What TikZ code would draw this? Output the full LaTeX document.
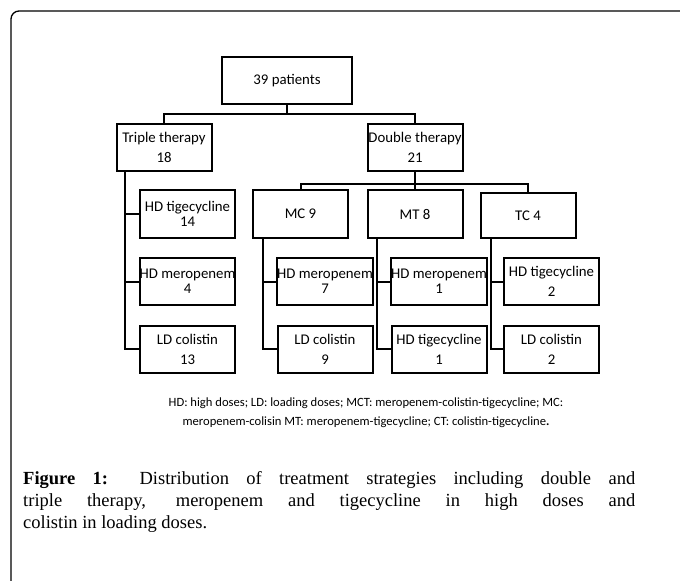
\documentclass[tikz,border=0pt]{standalone}
\usepackage{fontspec}
\usepackage{tikz}
\usetikzlibrary{positioning}
\newfontfamily\boxfont{Carlito}
\newfontfamily\capfont{Liberation Serif}
\tikzset{
  box/.style={draw, line width=2bp, minimum width=95bp, minimum height=47bp,
    inner sep=0pt, align=center, font=\boxfont\fontsize{14.8bp}{20bp}\selectfont},
  tight/.style={font=\boxfont\fontsize{14.8bp}{15bp}\selectfont},
  link/.style={line width=2bp},
}

\begin{document}
\begin{tikzpicture}[x=1bp, y=-1bp]
        \useasboundingbox (0,0) rectangle (680,581);
        \draw[line width=1.3bp, rounded corners=8bp] (11,581) -- (11,11) -- (680,11);
        \node[box, minimum width=130bp] (root) at (287,80.5) {39 patients};
        \node[box] (tri) at (164,147.5) {Triple therapy\\18};
        \node[box] (dbl) at (415,147.5) {Double therapy\\21};
        \node[box] (mc) at (300.5,214) {MC 9};
        \node[box] (mt) at (415,214) {MT 8};
        \node[box, minimum height=45bp] (tc) at (528,215.5) {TC 4};
        \node[box, tight] (hdt1) at (187.5,214) {HD tigecycline\\14};
        \node[box, tight] (hdm1) at (187.5,281.5) {HD meropenem\\4};
        \node[box] (ldc1) at (187.5,349) {LD colistin\\13};
        \node[box, tight] (hdm2) at (325,281.5) {HD meropenem\\7};
        \node[box] (ldc2) at (325,349) {LD colistin\\9};
        \node[box, tight] (hdm3) at (439,281.5) {HD meropenem\\1};
        \node[box] (hdt3) at (439,349) {HD tigecycline\\1};
        \node[box] (hdt4) at (551.5,281.5) {HD tigecycline\\2};
        \node[box] (ldc4) at (551.5,349) {LD colistin\\2};
        \draw[link] (root.south) -- ++(0,9) -| (tri.north);
        \draw[link] (root.south) -- ++(0,9) -| (dbl.north);
        \draw[link] (dbl.south) -- ++(0,12) -| (mc.north);
        \draw[link] (dbl.south) -- (mt.north);
        \draw[link] (dbl.south) -- ++(0,12) -| (tc.north);
        \draw[link] ([xshift=9bp]tri.south west) |- (hdt1.west);
        \draw[link] ([xshift=9bp]tri.south west) |- (hdm1.west);
        \draw[link] ([xshift=9bp]tri.south west) |- (ldc1.west);
        \draw[link] ([xshift=11bp]mc.south west) |- (hdm2.west);
        \draw[link] ([xshift=11bp]mc.south west) |- (ldc2.west);
        \draw[link] ([xshift=10bp]mt.south west) |- (hdm3.west);
        \draw[link] ([xshift=10bp]mt.south west) |- (hdt3.west);
        \draw[link] ([xshift=11bp]tc.south west) |- (hdt4.west);
        \draw[link] ([xshift=11bp]tc.south west) |- (ldc4.west);
        \node[align=center, font=\boxfont\fontsize{12.6bp}{19bp}\selectfont] (note) at (366,412.5)
          {HD: high doses; LD: loading doses; MCT: meropenem-colistin-tigecycline; MC:\\
           meropenem-colisin MT: meropenem-tigecycline; CT: colistin-tigecycline\textbf{.}};
        \node[anchor=north west, inner sep=0pt, text width=612bp, align=justify,
          font=\capfont\fontsize{18.5bp}{22bp}\selectfont] (caption) at (23,471)
          {\textbf{Figure 1:} Distribution of treatment strategies including double and\linebreak
           triple therapy, meropenem and tigecycline in high doses and\linebreak
           colistin in loading doses.};
    \end{tikzpicture}
\end{document}
